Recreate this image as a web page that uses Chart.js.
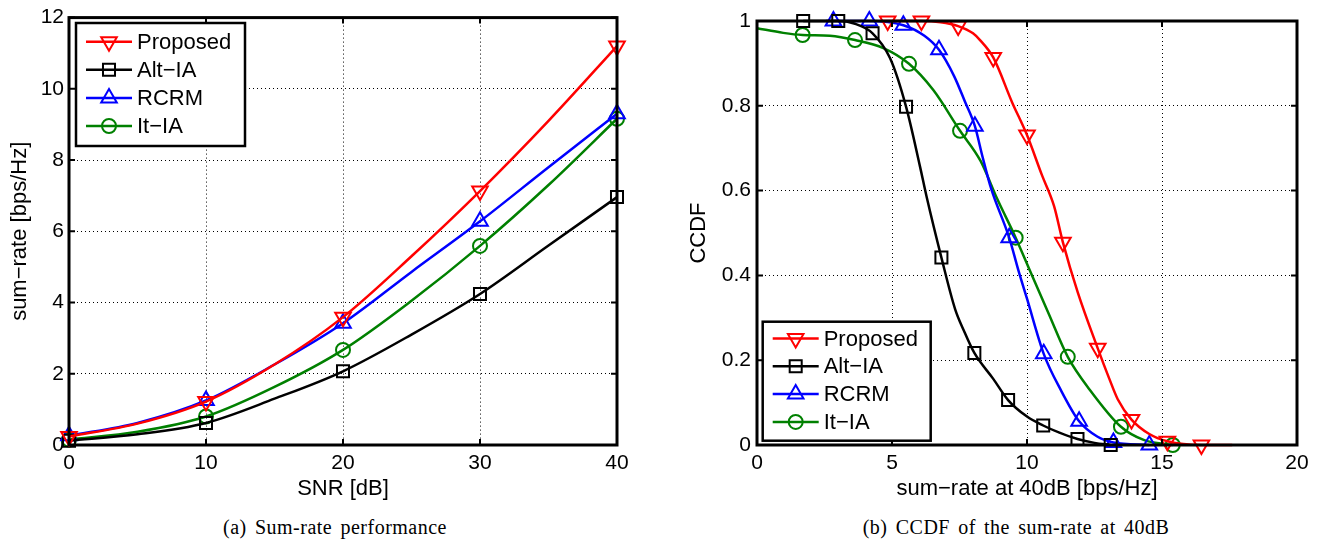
<!DOCTYPE html>
<html>
<head>
<meta charset="utf-8">
<script src="https://cdn.jsdelivr.net/npm/chart.js"></script>
<style>
body{margin:0;background:#fff;width:1320px;height:540px;position:relative;overflow:hidden}
.quadro{position:absolute;top:0;width:660px;height:505px}
#quadroA{left:0}
#quadroB{left:660px}
.legenda{position:absolute;top:517px;font-family:'Liberation Serif','Times New Roman',serif;font-size:20px;line-height:20px;letter-spacing:0.5px;word-spacing:2.7px;white-space:nowrap;transform:translateX(-50%);color:#000}
</style>
</head>
<body>
<div class="quadro" id="quadroA"><canvas id="grafico1"></canvas></div>
<div class="quadro" id="quadroB"><canvas id="grafico2"></canvas></div>
<div class="legenda" style="left:335px">(a) Sum-rate performance</div>
<div class="legenda" style="left:1016px">(b) CCDF of the sum-rate at 40dB</div>
<script>
// series
const nomes = ['Proposed', 'Alt−IA', 'RCRM', 'It−IA'];

// (a) soma das taxas x SNR
const snr = [0, 5, 10, 15, 20, 25, 30, 35, 40];
const proposedA = [0.24, 0.6, 1.22, 2.26, 3.59, 5.3, 7.13, 9.1, 11.2];
const altA = [0.12, 0.3, 0.62, 1.3, 2.07, 3.1, 4.24, 5.6, 6.96];
const rcrmA = [0.26, 0.62, 1.25, 2.26, 3.42, 4.86, 6.28, 7.8, 9.3];
const itA = [0.15, 0.37, 0.8, 1.63, 2.67, 4.05, 5.59, 7.3, 9.16];

// (b) CCDF - curvas
const propX = [4.6, 4.84, 6.09, 6.8, 7.45, 8.0, 8.26, 8.75, 9.45, 10.0, 10.55, 11.0, 11.33, 11.88, 12.62, 13.05, 13.36, 13.87, 14.53, 15.2, 16.46, 17.6];
const propY = [1.0, 1.0, 1.0, 0.997, 0.988, 0.971, 0.955, 0.914, 0.808, 0.731, 0.637, 0.564, 0.478, 0.36, 0.228, 0.156, 0.108, 0.06, 0.026, 0.009, 0.0, 0.0];
const altX = [1.71, 3.01, 3.6, 4.28, 4.93, 5.52, 6.04, 6.28, 6.83, 7.34, 7.66, 8.05, 8.75, 9.3, 10.0, 10.6, 11.2, 11.87, 12.5, 13.1];
const altY = [1.0, 1.0, 0.994, 0.971, 0.912, 0.798, 0.656, 0.586, 0.442, 0.32, 0.27, 0.217, 0.156, 0.106, 0.067, 0.046, 0.029, 0.014, 0.005, 0.0];
const rcrmX = [2.55, 2.83, 4.16, 5.42, 6.2, 6.74, 7.3, 7.7, 8.07, 8.36, 8.67, 9.34, 9.69, 10.0, 10.62, 11.25, 11.93, 12.6, 13.2, 14.53];
const rcrmY = [1.0, 1.0, 1.0, 0.99, 0.965, 0.932, 0.87, 0.81, 0.752, 0.678, 0.605, 0.489, 0.41, 0.345, 0.215, 0.13, 0.056, 0.02, 0.006, 0.0];
const itX = [0, 0.97, 1.69, 2.7, 3.63, 4.68, 5.63, 6.53, 7.52, 8.28, 8.9, 9.58, 10.05, 10.8, 11.51, 12.33, 13.48, 14.32, 15.4];
const itY = [0.983, 0.972, 0.967, 0.965, 0.955, 0.936, 0.899, 0.837, 0.741, 0.67, 0.58, 0.489, 0.42, 0.31, 0.208, 0.13, 0.043, 0.012, 0.0];

// (b) CCDF - marcadores
const propMx = [4.84, 6.09, 7.45, 8.75, 10.0, 11.33, 12.62, 13.87, 15.2, 16.46];
const propMy = [1.0, 1.0, 0.988, 0.914, 0.731, 0.478, 0.228, 0.06, 0.009, 0.0];
const altMx = [1.71, 3.01, 4.28, 5.52, 6.83, 8.05, 9.3, 10.6, 11.87, 13.1];
const altMy = [1.0, 1.0, 0.971, 0.798, 0.442, 0.217, 0.106, 0.046, 0.014, 0.0];
const rcrmMx = [2.83, 4.16, 5.42, 6.74, 8.07, 9.34, 10.62, 11.93, 13.2, 14.53];
const rcrmMy = [1.0, 1.0, 0.99, 0.932, 0.752, 0.489, 0.215, 0.056, 0.006, 0.0];
const itMx = [1.69, 3.63, 5.63, 7.52, 9.58, 11.51, 13.48, 15.4];
const itMy = [0.967, 0.955, 0.899, 0.741, 0.489, 0.208, 0.043, 0.0];

// estilo matlab
const cores = ['#ff0000', '#000000', '#0000ff', '#008000'];
const marcas = ['triangle', 'rect', 'triangle', 'circle'];
const giro = [180, 0, 0, 0];
const raios = [9, 8.5, 9, 7];

Chart.defaults.font.family = "'Liberation Sans', Arial, sans-serif";
Chart.defaults.color = '#000';

function pares(xs, ys){
    return xs.map(function(x, k){ return {x: x, y: ys[k]}; });
}

function marcador(c, i, x, y){
    var r = raios[i];
    c.beginPath();
    if(marcas[i] == 'circle'){
        c.arc(x, y, r, 0, Math.PI * 2);
    }else if(marcas[i] == 'rect'){
        var s = r * Math.SQRT1_2;
        c.rect(x - s, y - s, 2 * s, 2 * s);
    }else{
        var a = giro[i] * Math.PI / 180;
        for(var k = 0; k < 3; k++){
            var px = x + Math.sin(a) * r, py = y - Math.cos(a) * r;
            if(k == 0) c.moveTo(px, py); else c.lineTo(px, py);
            a += 2 * Math.PI / 3;
        }
        c.closePath();
    }
    c.stroke();
}

// caixa preta, ticks para dentro e legenda
const moldura = {
    id: 'moldura',
    afterDraw(chart, args, opts){
        var c = chart.ctx;
        var a = chart.chartArea;
        var sx = chart.scales.x, sy = chart.scales.y;
        c.save();
        c.strokeStyle = '#000';
        c.lineWidth = 2;
        c.beginPath();
        sx.ticks.forEach(function(t){
            var p = sx.getPixelForValue(t.value);
            c.moveTo(p, a.bottom); c.lineTo(p, a.bottom - 6);
            c.moveTo(p, a.top); c.lineTo(p, a.top + 6);
        });
        sy.ticks.forEach(function(t){
            var p = sy.getPixelForValue(t.value);
            c.moveTo(a.left, p); c.lineTo(a.left + 6, p);
            c.moveTo(a.right, p); c.lineTo(a.right - 6, p);
        });
        c.stroke();
        c.lineWidth = 3;
        c.strokeRect(a.left, a.top, a.right - a.left, a.bottom - a.top);

        // legenda
        c.fillStyle = '#fff';
        c.fillRect(opts.x, opts.y, opts.w, opts.h);
        c.lineWidth = 2.5;
        c.strokeRect(opts.x, opts.y, opts.w, opts.h);
        c.font = "22px 'Liberation Sans', Arial, sans-serif";
        c.textBaseline = 'middle';
        nomes.forEach(function(n, i){
            var y = opts.primeira + i * opts.passo;
            c.strokeStyle = cores[i];
            c.lineWidth = 2.5;
            c.beginPath();
            c.moveTo(opts.x + 10, y); c.lineTo(opts.x + 56, y);
            c.stroke();
            c.lineWidth = 2;
            marcador(c, i, opts.x + 33, y);
            c.fillStyle = '#000';
            c.fillText(n, opts.x + 61, y + 1);
        });
        c.restore();
    }
};

function eixos(xmin, xmax, xpasso, ymin, ymax, ypasso, xtitulo, ytitulo, larguraY, padTitulo, padTick, yfmt){
    return {
        x: {
            type: 'linear', min: xmin, max: xmax,
            ticks: {stepSize: xpasso, padding: 6, font: {size: 21}},
            grid: {color: '#000', lineWidth: 1, drawTicks: false},
            border: {display: false, dash: [1, 3]},
            title: {display: true, text: xtitulo, font: {size: 22}, padding: {top: 0, bottom: 3}},
            afterFit: function(s){ s.height = 60; }
        },
        y: {
            type: 'linear', min: ymin, max: ymax,
            ticks: {stepSize: ypasso, padding: padTick, font: {size: 21}, callback: yfmt},
            grid: {color: '#000', lineWidth: 1, drawTicks: false},
            border: {display: false, dash: [1, 3]},
            title: {display: true, text: ytitulo, font: {size: 22}, padding: {top: padTitulo, bottom: 0}},
            afterFit: function(s){ s.width = larguraY; }
        }
    };
}

const serieA = [proposedA, altA, rcrmA, itA];

new Chart(document.getElementById('grafico1'), {
    type: 'line',
    data: {
        datasets: nomes.map(function(n, i){
            return {
                label: n,
                data: pares(snr, serieA[i]),
                borderColor: cores[i],
                backgroundColor: 'rgba(0,0,0,0)',
                borderWidth: 2.5,
                cubicInterpolationMode: 'monotone',
                pointStyle: marcas[i],
                pointRotation: giro[i],
                pointRadius: function(c){ return snr[c.dataIndex] % 10 == 0 ? raios[i] : 0; },
                pointBorderWidth: 2,
                pointBorderColor: cores[i],
                pointBackgroundColor: 'rgba(0,0,0,0)',
                clip: false
            };
        })
    },
    options: {
        responsive: true,
        maintainAspectRatio: false,
        animation: false,
        events: [],
        layout: {autoPadding: false, padding: {left: 0, right: 43, top: 16, bottom: 0}},
        scales: eixos(0, 40, 10, 0, 12, 2, 'SNR [dB]', 'sum−rate [bps/Hz]', 69, 7, 5, function(v){ return v; }),
        plugins: {
            legend: {display: false},
            tooltip: {enabled: false},
            moldura: {x: 76, y: 23, w: 169, h: 123, primeira: 41.7, passo: 28.1}
        }
    },
    plugins: [moldura]
});

const curvas = [[propX, propY], [altX, altY], [rcrmX, rcrmY], [itX, itY]];
const pontos = [[propMx, propMy], [altMx, altMy], [rcrmMx, rcrmMy], [itMx, itMy]];
var conjuntos = [];
nomes.forEach(function(n, i){
    conjuntos.push({
        label: n + ' marcas',
        data: pares(pontos[i][0], pontos[i][1]),
        showLine: false,
        pointStyle: marcas[i],
        pointRotation: giro[i],
        pointRadius: raios[i],
        pointBorderWidth: 2,
        pointBorderColor: cores[i],
        pointBackgroundColor: 'rgba(0,0,0,0)',
        clip: false
    });
    conjuntos.push({
        label: n,
        data: pares(curvas[i][0], curvas[i][1]),
        borderColor: cores[i],
        backgroundColor: 'rgba(0,0,0,0)',
        borderWidth: 2.5,
        cubicInterpolationMode: 'monotone',
        pointRadius: 0,
        clip: false
    });
});

new Chart(document.getElementById('grafico2'), {
    type: 'line',
    data: {datasets: conjuntos},
    options: {
        responsive: true,
        maintainAspectRatio: false,
        animation: false,
        events: [],
        layout: {autoPadding: false, padding: {left: 0, right: 23, top: 21, bottom: 0}},
        scales: eixos(0, 20, 5, 0, 1, 0.2, 'sum−rate at 40dB [bps/Hz]', 'CCDF', 97, 26, 6, function(v){ return String(Math.round(v * 10) / 10); }),
        plugins: {
            legend: {display: false},
            tooltip: {enabled: false},
            moldura: {x: 102.7, y: 321.7, w: 168, h: 119, primeira: 338.5, passo: 27.8}
        }
    },
    plugins: [moldura]
});
</script>
</body>
</html>
